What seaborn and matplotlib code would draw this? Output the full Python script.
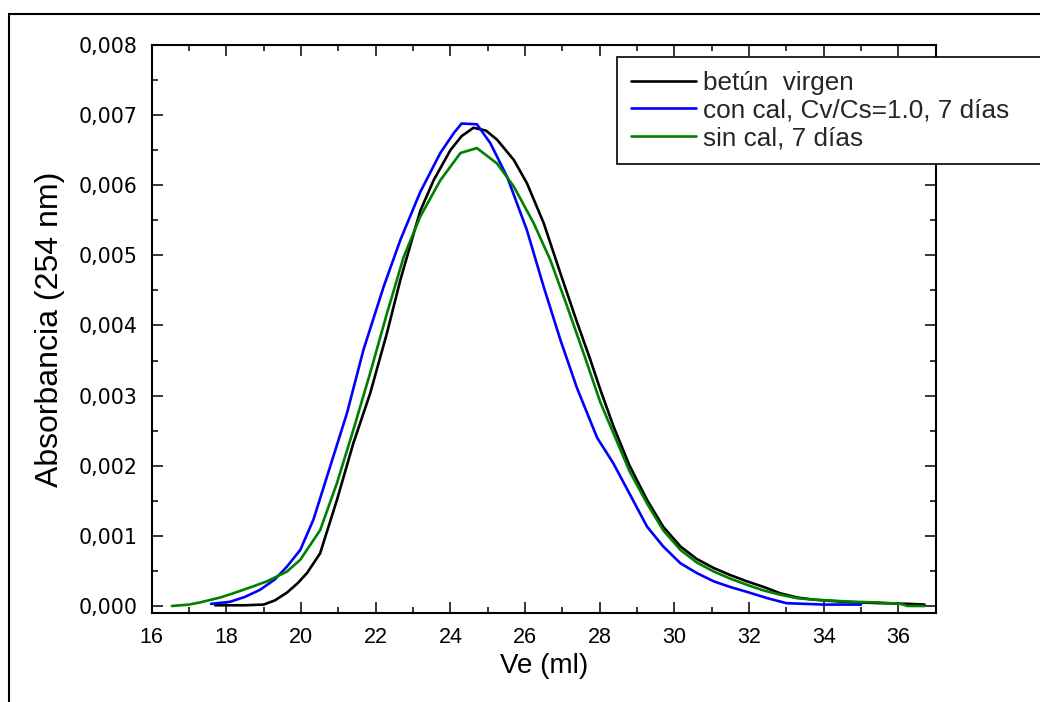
import numpy as np
import pandas as pd
import seaborn as sns
import matplotlib.pyplot as plt
from matplotlib.ticker import MultipleLocator, FuncFormatter
from matplotlib.patches import Rectangle

# betún virgen
ve_virgen = [17.7, 18.5, 19.0, 19.3, 19.62, 19.9, 20.16, 20.51, 20.96, 21.4, 21.85, 22.3,
             22.66, 23.19, 23.55, 24.0, 24.3, 24.62, 24.95, 25.25, 25.7, 26.05, 26.5, 26.95,
             27.39, 27.75, 28.02, 28.37, 28.8, 29.27, 29.7, 30.16, 30.6, 31.06, 31.5, 31.95,
             32.4, 32.84, 33.3, 33.74, 34.5, 35.5, 36.3, 36.7]
abs_virgen = [0.00001, 0.00001, 0.00002, 0.00008, 0.00019, 0.00032, 0.00047, 0.00075, 0.00151,
              0.00232, 0.00303, 0.00389, 0.00465, 0.00563, 0.00607, 0.0065, 0.0067, 0.00682,
              0.00678, 0.00665, 0.00636, 0.00603, 0.00546, 0.00474, 0.00405, 0.00351, 0.00308,
              0.00256, 0.002, 0.00151, 0.00113, 0.00085, 0.00067, 0.00054, 0.00044, 0.00035,
              0.00027, 0.00018, 0.00012, 0.00009, 0.00006, 0.00004, 0.00003, 0.00002]

# con cal, Cv/Cs=1.0, 7 días
ve_concal = [17.59, 18.1, 18.5, 18.9, 19.3, 19.62, 19.98, 20.33, 20.78, 21.23, 21.67, 22.21,
             22.66, 23.19, 23.73, 24.1, 24.3, 24.71, 25.07, 25.52, 26.05, 26.5, 26.95, 27.39,
             27.93, 28.37, 28.8, 29.27, 29.7, 30.16, 30.6, 31.06, 31.5, 31.95, 32.5, 33.0,
             34.0, 35.0]
abs_concal = [0.00003, 0.00006, 0.00013, 0.00023, 0.00038, 0.00056, 0.0008, 0.00123, 0.00199,
              0.00275, 0.00365, 0.00455, 0.00522, 0.0059, 0.00646, 0.00675, 0.00688, 0.00687,
              0.0066, 0.00612, 0.00536, 0.00455, 0.00379, 0.00311, 0.0024, 0.00203, 0.0016,
              0.00113, 0.00085, 0.00061, 0.00047, 0.00035, 0.00027, 0.0002, 0.00011, 0.00004,
              0.00002, 0.00002]

# sin cal, 7 días
ve_sincal = [16.54, 17.0, 17.29, 17.83, 18.18, 18.72, 19.08, 19.62, 19.98, 20.51, 20.96, 21.4,
             21.85, 22.3, 22.75, 23.19, 23.73, 24.27, 24.71, 25.25, 25.7, 26.23, 26.68, 27.13,
             27.57, 28.02, 28.37, 28.8, 29.27, 29.7, 30.16, 30.6, 31.06, 31.5, 31.95, 32.4,
             32.84, 33.3, 33.74, 34.8, 35.5, 36.06, 36.25, 36.7]
abs_sincal = [0.0, 0.00002, 0.00005, 0.00012, 0.00018, 0.00028, 0.00035, 0.00049, 0.00066,
              0.00108, 0.00175, 0.00251, 0.00332, 0.00417, 0.00498, 0.00555, 0.00607, 0.00646,
              0.00653, 0.00631, 0.00598, 0.00546, 0.00493, 0.00427, 0.0036, 0.0029, 0.00246,
              0.00192, 0.00146, 0.00108, 0.0008, 0.00062, 0.00049, 0.00039, 0.0003, 0.00022,
              0.00016, 0.00011, 0.00009, 0.00006, 0.00005, 0.00003, 0.0, 0.0]

labels = ["betún  virgen", "con cal, Cv/Cs=1.0, 7 días", "sin cal, 7 días"]
colors = ["black", "#0000ff", "#008000"]

sns.set_theme(style="ticks")
plt.rcParams["font.family"] = ["Liberation Sans", "DejaVu Sans"]

fig = plt.figure(figsize=(10.4, 7.02), dpi=100)
ax = fig.add_axes([0.1459, 0.1268, 0.7538, 0.8091])

series = [(ve_virgen, abs_virgen), (ve_concal, abs_concal), (ve_sincal, abs_sincal)]
for (xs, ys), lab, col in zip(series, labels, colors):
    df = pd.DataFrame({"ve": xs, "abs": ys})
    sns.lineplot(data=df, x="ve", y="abs", color=col, label=lab, lw=1.9, sort=False, ax=ax)

ax.set_xlim(16, 37)
ax.set_ylim(-0.0001, 0.008)
ax.xaxis.set_major_locator(MultipleLocator(2))
ax.xaxis.set_minor_locator(MultipleLocator(1))
ax.yaxis.set_major_locator(MultipleLocator(0.001))
ax.yaxis.set_minor_locator(MultipleLocator(0.0005))
ax.yaxis.set_major_formatter(FuncFormatter(lambda v, p: f"{v:.3f}".replace(".", ",")))

ax.tick_params(which="both", direction="in", top=True, right=True, color="black", width=1.1)
ax.tick_params(which="major", length=8, pad=10, labelsize=15.5, labelcolor="black")
ax.tick_params(which="minor", length=4.5)
for t in ax.get_yticklabels():
    t.set_fontfamily("DejaVu Sans")
    t.set_fontsize(14.8)
for sp in ax.spines.values():
    sp.set_color("black")
    sp.set_linewidth(1.5)

ax.set_xlabel("Ve (ml)", fontsize=20, color="black", labelpad=4)
ax.set_ylabel("Absorbancia (254 nm)", fontsize=23, color="black", labelpad=10)

ax.get_legend().remove()
handles, labs = ax.get_legend_handles_labels()
leg = fig.legend(handles, labs, loc="upper left",
                 bbox_to_anchor=(0.593, 0.919, 0.45, 0.0), mode="expand",
                 fontsize=18.8, frameon=True, fancybox=False, framealpha=1,
                 edgecolor="black", borderpad=0.55, handlelength=2.5,
                 handletextpad=0.27, labelspacing=0.13, borderaxespad=0)
leg.get_frame().set_linewidth(1.2)

# outer frame of the page
fig.patches.append(Rectangle((9 / 1040, -0.1), 1.2, 1.1 - 14 / 702, transform=fig.transFigure,
                             fill=False, edgecolor="black", lw=1.5))

fig.savefig("out.png", dpi=100)
